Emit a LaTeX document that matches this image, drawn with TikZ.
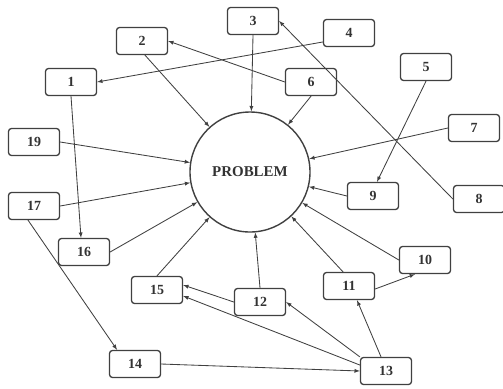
\documentclass[tikz,border=0pt]{standalone}
\usepackage{fontspec}
\setmainfont{Liberation Serif}
\usepackage{tikz}

\begin{document}
\begin{tikzpicture}
    [>=latex,
    x=1bp, y=-1bp,
    line cap=round,
    line join=round,
    every node/.style={text=black!80},
    box/.style={draw=black!75, line width=1.3bp, rounded corners=3bp,
        minimum width=51bp, minimum height=27bp, inner sep=0pt,
        font=\fontsize{14}{16}\selectfont\bfseries},
    link/.style={->, draw=black!75, line width=0.85bp}]

    \useasboundingbox (0,0) rectangle (503,388);

    \node[circle, draw=black!75, line width=1.4bp, minimum size=120bp,
        font=\fontsize{15}{17}\selectfont\bfseries] (problem) at (250,172) {PROBLEM};

    % Kaestchen
    \node[box] (n1)  at (71,82)   {1};
    \node[box] (n2)  at (142,41)  {2};
    \node[box] (n3)  at (253,21)  {3};
    \node[box] (n4)  at (349,33)  {4};
    \node[box] (n5)  at (426,67)  {5};
    \node[box] (n6)  at (311,82)  {6};
    \node[box] (n7)  at (474,128) {7};
    \node[box] (n8)  at (479,199) {8};
    \node[box] (n9)  at (373,196) {9};
    \node[box] (n10) at (425,260) {10};
    \node[box] (n11) at (349,286) {11};
    \node[box] (n12) at (260,302) {12};
    \node[box] (n13) at (386,371) {13};
    \node[box] (n14) at (135,364) {14};
    \node[box] (n15) at (157,290) {15};
    \node[box] (n16) at (84,252)  {16};
    \node[box] (n17) at (34,206)  {17};
    \node[box] (n19) at (34,142)  {19};

    % Pfeile zum Problem
    \draw[link] ([xshift=3]n2.south) -- (problem);
    \draw[link] (n3.south) -- (problem);
    \draw[link] (n6.south) -- (problem);
    \draw[link] (n7.west) -- (problem);
    \draw[link] (n9.west) -- (problem);
    \draw[link] (n10.west) -- (problem);
    \draw[link] ([xshift=-6]n11.north) -- (problem);
    \draw[link] (n12.north) -- (problem);
    \draw[link] (n15.north) -- (problem);
    \draw[link] (n16.east) -- (problem);
    \draw[link] (n17.east) -- (problem);
    \draw[link] (n19.east) -- (problem);

    % Pfeile zwischen Kaestchen
    \draw[link] (n1.south) -- ([xshift=-3]n16.north);
    \draw[link] ([yshift=-9]n4.west) -- (n1.east);
    \draw[link] (n6.west) -- (n2.east);
    \draw[link] (n8.west) -- (n3.east);
    \draw[link] (n5.south) -- ([xshift=4]n9.north);
    \draw[link] ([yshift=-3]n11.east) -- ([xshift=-10]n10.south);
    \draw[link] ([xshift=-5]n13.north) -- ([xshift=8]n11.south);
    \draw[link] (n13.north west) -- (n12.east);
    \draw[link] ([yshift=6]n13.west) -- ([yshift=-6]n15.east);
    \draw[link] (n12.west) -- ([yshift=5]n15.east);
    \draw[link] (n14.east) -- (n13.west);
    \draw[link] ([xshift=-6]n17.south) -- ([xshift=-18]n14.north);
\end{tikzpicture}
\end{document}
